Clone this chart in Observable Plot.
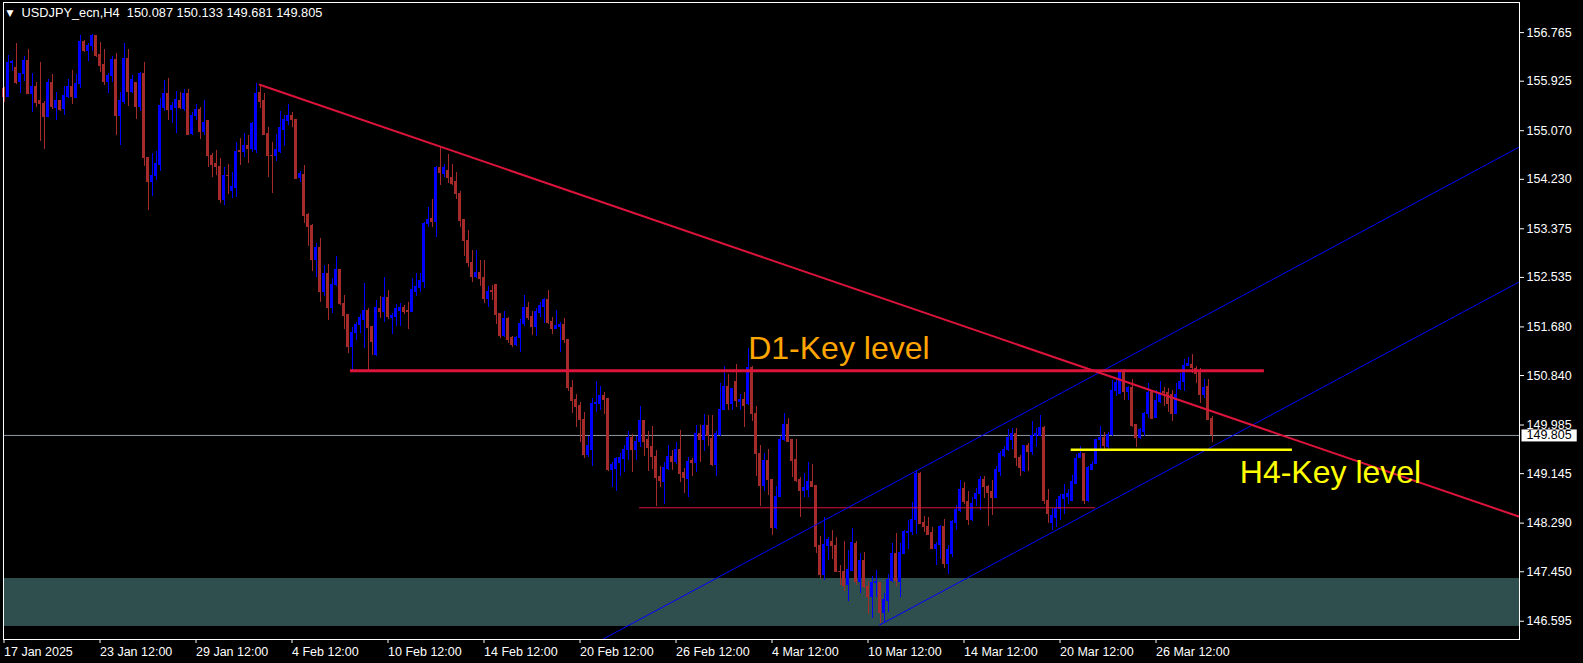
<!DOCTYPE html>
<html><head><meta charset="utf-8">
<script src="https://cdn.jsdelivr.net/npm/d3@7"></script>
<script src="https://cdn.jsdelivr.net/npm/@observablehq/plot@0.6"></script>
<style>
html,body{margin:0;padding:0;background:#000;}
#chart{width:1583px;height:663px;overflow:hidden;}
</style></head><body><div id="chart"></div>
<script>
// ---- header ----
const symbolTitle = "USDJPY_ecn,H4";
const lastBarOHLC = ["150.087", "150.133", "149.681", "149.805"];

// ---- axis ticks ----
const priceTicks = [156.765, 155.925, 155.070, 154.230, 153.375, 152.535, 151.680, 150.840, 149.985, 149.145, 148.290, 147.450, 146.595];
const dateLabelBars = [0, 24, 48, 72, 96, 120, 144, 168, 192, 216, 240, 264, 288];
const dateLabels = ["17 Jan 2025", "23 Jan 12:00", "29 Jan 12:00", "4 Feb 12:00", "10 Feb 12:00", "14 Feb 12:00", "20 Feb 12:00", "26 Feb 12:00", "4 Mar 12:00", "10 Mar 12:00", "14 Mar 12:00", "20 Mar 12:00", "26 Mar 12:00"];

// ---- H4 candles (bar 0 = 17 Jan 12:00) ----
const openP = [
155.79,155.66,156.24,156.16,155.91,156.05,156.28,155.70,155.82,155.58,
155.54,155.30,155.89,155.47,155.58,155.44,155.66,155.83,155.64,155.87,
156.61,156.44,156.53,156.70,156.37,156.20,155.91,156.02,156.29,155.33,
155.56,156.31,155.74,155.90,155.48,156.05,154.60,154.19,154.29,154.48,
155.47,155.70,155.43,155.47,155.59,155.44,155.71,155.02,155.32,155.43,
155.04,155.23,154.64,154.49,154.45,153.88,154.29,154.03,154.08,154.72,
154.70,154.80,154.75,154.73,155.72,155.58,155.01,154.64,154.63,154.70,
155.09,155.23,155.33,155.25,154.25,154.31,153.61,153.42,152.83,153.05,
152.28,152.59,152.01,152.40,152.66,152.08,151.88,151.34,151.57,151.71,
151.80,151.95,151.68,151.19,151.99,151.93,152.18,151.84,151.85,151.96,
152.01,151.96,151.94,152.28,152.36,152.45,153.45,153.54,153.50,154.42,
154.33,154.37,154.26,154.18,153.98,153.52,153.16,152.78,152.55,152.62,
152.52,152.16,152.30,152.40,151.90,151.52,151.81,151.48,151.36,151.49,
151.73,152.00,151.85,151.68,151.92,152.02,152.14,151.76,151.64,151.68,
151.71,151.45,150.63,150.41,150.31,150.08,149.46,149.56,150.34,150.34,
150.48,150.43,149.20,149.23,149.33,149.40,149.55,149.76,149.56,149.69,
150.05,149.72,149.60,149.44,149.09,149.00,149.22,149.44,149.34,149.55,
149.15,149.05,149.37,149.33,149.83,149.73,149.96,149.74,149.29,149.81,
150.25,150.65,150.34,150.72,150.39,150.41,150.34,150.97,150.18,149.49,
148.93,149.37,149.04,148.20,148.74,149.72,149.98,149.72,149.38,149.03,
148.85,148.87,149.00,148.94,147.89,147.40,147.90,147.96,147.90,147.45,
147.45,147.22,147.47,147.93,147.28,147.64,147.19,147.01,147.25,147.25,
146.74,146.95,147.29,147.76,147.28,147.76,148.12,148.13,148.34,149.14,
148.29,148.22,148.12,147.84,147.91,148.22,147.58,147.76,148.29,148.50,
148.88,148.66,148.34,148.71,148.79,149.04,148.92,148.83,148.72,149.17,
149.45,149.56,149.73,149.83,149.42,149.19,149.62,149.52,149.79,149.80,
149.94,148.68,148.29,148.38,148.54,148.71,148.75,148.68,148.97,149.42,
149.48,148.67,149.21,149.32,149.73,149.76,149.60,149.81,150.58,150.52,
150.90,150.55,150.63,149.98,149.76,149.86,150.17,150.55,150.11,150.38,
150.55,150.54,150.50,150.18,150.61,150.73,151.01,151.03,150.95,150.88,
150.51,150.64,150.087];
const highP = [
155.82,156.37,156.29,156.58,156.05,156.35,156.47,156.05,155.91,156.24,
155.58,155.95,156.04,155.73,155.60,155.83,155.95,156.11,156.04,156.72,
156.63,156.58,156.74,156.72,156.59,156.47,156.05,156.35,156.40,155.73,
156.57,156.47,156.02,155.91,156.08,156.25,154.60,154.67,154.71,155.63,
155.94,155.97,155.56,155.75,155.73,155.78,155.78,155.39,155.52,155.47,
155.60,155.25,154.67,154.73,154.59,154.44,154.49,154.34,154.86,154.93,
155.02,154.99,155.22,155.88,155.87,155.71,155.12,154.87,155.01,155.40,
155.33,155.52,155.38,155.26,154.36,154.47,153.64,153.45,153.12,153.20,
152.74,152.76,152.51,152.90,152.67,152.22,151.88,151.67,151.76,151.90,
152.43,151.99,151.69,152.14,152.20,152.53,152.31,151.91,152.07,152.08,
152.05,152.10,152.51,152.60,152.60,153.49,153.74,153.88,154.45,154.78,
154.49,154.66,154.49,154.35,154.02,153.53,153.35,153.00,153.00,152.83,
152.83,152.38,152.40,152.40,151.92,151.94,151.85,151.52,151.52,151.80,
152.22,152.10,151.94,151.99,152.11,152.17,152.31,151.85,151.96,151.76,
151.82,151.45,150.76,150.52,150.38,150.21,149.78,150.44,150.74,150.65,
150.54,150.44,149.34,149.42,149.49,149.63,149.88,149.82,149.78,150.31,
150.06,149.88,149.96,149.55,149.26,149.33,149.63,149.55,149.69,149.89,
149.23,149.42,149.40,149.98,149.98,150.17,150.15,150.15,149.88,150.70,
151.00,150.86,150.61,151.03,150.52,150.55,151.30,151.00,150.31,149.63,
149.49,149.57,149.04,148.92,149.78,150.18,150.09,149.73,149.73,149.08,
149.14,149.34,149.30,148.94,148.06,148.38,148.05,148.16,148.05,147.56,
147.98,147.82,148.20,147.98,147.76,147.79,147.29,147.36,147.47,147.27,
147.07,147.40,147.93,148.11,147.93,148.17,148.34,148.65,149.20,149.17,
148.40,148.38,148.21,147.96,148.25,148.35,147.90,148.34,148.60,149.03,
149.00,148.83,148.73,148.88,149.10,149.10,148.94,149.03,149.27,149.52,
149.62,149.90,149.92,149.92,149.46,149.63,149.66,150.05,149.92,150.15,
149.96,148.87,148.54,148.69,148.78,148.96,148.87,149.11,149.48,149.61,
149.49,149.26,149.36,149.74,149.96,149.86,149.86,150.76,150.78,150.94,
150.94,150.65,150.77,149.99,149.92,150.21,150.70,150.59,150.58,150.73,
150.64,150.61,150.59,150.70,150.88,151.11,151.16,151.20,150.99,150.96,
150.78,150.78,150.133];
const lowP = [
155.55,155.64,156.10,155.86,155.71,155.92,155.70,155.39,155.47,154.89,
154.75,155.30,155.44,155.24,155.41,155.33,155.62,155.53,155.62,155.80,
156.42,156.27,156.43,156.34,156.08,155.85,155.72,155.91,154.99,154.81,
155.53,155.49,155.71,155.27,155.41,154.46,153.69,153.93,154.21,154.37,
155.41,155.24,155.20,155.03,155.44,155.41,154.99,154.99,155.24,154.92,
154.98,154.44,154.27,154.30,153.82,153.78,153.97,153.90,153.92,154.47,
154.60,154.51,154.70,154.67,155.45,154.99,154.27,153.99,154.53,154.67,
154.80,155.16,155.13,154.22,154.17,153.46,153.07,152.63,152.54,152.11,
152.20,151.79,151.91,152.37,152.05,151.63,151.22,150.93,151.44,151.56,
151.30,150.93,151.19,151.17,151.82,151.76,151.80,151.55,151.68,151.68,
151.90,151.64,151.94,152.20,152.28,152.34,153.40,153.40,153.23,154.12,
154.27,154.16,154.12,153.88,153.40,152.90,152.71,152.44,152.51,152.37,
152.08,152.02,152.14,151.73,151.48,151.49,151.39,151.33,151.34,151.23,
151.68,151.79,151.53,151.52,151.85,151.74,151.72,151.55,151.63,151.23,
151.39,150.57,150.18,149.94,149.69,149.40,149.43,149.26,150.21,150.24,
150.17,149.19,148.91,148.84,149.10,149.17,149.38,149.17,149.38,149.60,
149.44,149.19,149.21,148.57,148.90,148.62,149.20,149.20,149.30,149.00,
148.81,148.74,149.09,149.17,149.34,149.53,149.62,149.26,149.09,149.78,
150.23,150.24,150.23,150.29,150.24,149.94,150.32,150.04,149.09,148.58,
148.83,148.77,148.08,148.18,148.73,149.70,149.69,149.08,149.00,148.38,
148.73,148.73,148.90,147.77,147.33,147.30,147.65,147.66,147.43,147.21,
147.11,146.94,147.46,147.22,147.08,147.16,146.72,146.64,147.01,146.55,
146.58,146.75,147.27,147.20,147.01,147.75,147.83,148.08,148.09,148.27,
148.13,148.08,147.83,147.56,147.67,147.50,147.40,147.70,148.16,148.48,
148.62,148.25,148.32,148.57,148.50,148.71,148.23,148.42,148.71,149.10,
149.43,149.52,149.57,149.27,149.09,149.17,149.19,149.45,149.60,149.78,
148.61,148.29,148.16,148.21,148.34,148.44,148.62,148.67,148.96,149.40,
148.61,148.64,149.20,149.30,149.55,149.52,149.53,149.79,150.48,150.51,
150.41,150.41,149.95,149.59,149.73,149.78,150.09,150.08,150.10,150.35,
150.30,150.21,150.05,150.17,150.59,150.57,151.00,150.87,150.70,150.35,
150.44,150.06,149.681];
const closeP = [
155.66,156.24,156.26,155.90,156.05,156.28,155.70,155.82,155.55,155.53,
155.30,155.90,155.48,155.58,155.43,155.67,155.83,155.65,155.88,156.61,
156.44,156.54,156.70,156.36,156.19,155.91,156.02,156.29,155.33,155.58,
156.31,155.74,155.95,155.48,156.05,154.60,154.18,154.29,154.50,155.49,
155.70,155.43,155.49,155.60,155.46,155.71,155.00,155.33,155.42,155.05,
155.21,154.63,154.47,154.44,153.88,154.29,154.28,154.09,154.71,154.70,
154.80,154.75,155.18,155.70,155.56,155.00,154.63,154.63,154.74,155.12,
155.25,155.33,155.25,154.24,154.33,153.59,153.40,152.83,153.05,152.28,
152.60,152.01,152.41,152.66,152.07,151.86,151.33,151.58,151.72,151.83,
151.95,151.66,151.42,152.01,151.93,152.18,151.85,151.86,151.99,152.01,
151.94,151.94,152.31,152.37,152.48,153.46,153.53,153.50,154.42,154.34,
154.42,154.25,154.15,153.98,153.51,153.16,152.78,152.55,152.62,152.50,
152.16,152.29,152.28,151.88,151.52,151.81,151.46,151.36,151.49,151.73,
152.00,151.84,151.68,151.93,152.05,152.14,151.75,151.64,151.69,151.71,
151.45,150.62,150.40,150.29,150.08,149.46,149.63,150.34,150.36,150.48,
150.41,149.20,149.30,149.40,149.42,149.56,149.76,149.56,149.70,150.05,
149.70,149.59,149.43,149.07,149.02,149.24,149.44,149.34,149.55,149.14,
149.07,149.35,149.33,149.83,149.73,149.97,149.79,149.29,149.83,150.25,
150.65,150.34,150.60,150.40,150.41,150.32,150.97,150.17,149.49,148.93,
149.37,149.03,148.20,148.75,149.72,149.98,149.70,149.36,149.02,148.85,
148.89,149.00,148.92,147.88,147.40,147.92,147.99,147.89,147.44,147.44,
147.21,147.48,147.95,147.28,147.64,147.18,147.01,147.26,147.27,146.74,
146.97,147.30,147.76,147.29,147.78,148.13,148.14,148.34,149.14,148.28,
148.22,148.09,147.84,147.92,148.22,147.58,147.82,148.31,148.51,148.87,
148.65,148.34,148.62,148.80,149.04,148.91,148.81,148.72,149.20,149.48,
149.56,149.76,149.83,149.42,149.24,149.62,149.52,149.79,149.83,149.94,
148.67,148.44,148.41,148.54,148.75,148.77,148.79,149.00,149.40,149.48,
148.67,149.24,149.30,149.73,149.76,149.62,149.82,150.58,150.71,150.90,
150.55,150.63,149.96,149.76,149.90,150.18,150.54,150.09,150.40,150.50,
150.54,150.35,150.18,150.50,150.73,151.01,151.04,150.97,150.87,150.51,
150.63,150.08,149.805];

// ---- drawn objects (bar index / price) ----
const demandZone = [{lo: 146.505, hi: 147.333}];
const trendRed = [{bar: 63.95, price: 155.864}, {bar: 378.875, price: 148.40}];
const channelUpper = [{bar: 149.6, price: 146.28}, {bar: 378.875, price: 154.79}];
const channelLower = [{bar: 218.9, price: 146.53}, {bar: 378.875, price: 152.46}];
const d1Level = [{price: 150.922, from: 86.6, to: 315.1}];
const supportLevel = [{price: 148.555, from: 158.9, to: 272.9}];
const h4Level = [{price: 149.557, from: 266.8, to: 322.1}];
const labels = [
  {text: "D1-Key level", bar: 186.05, price: 151.13, color: "#FFA500"},
  {text: "H4-Key level", bar: 308.95, price: 148.98, color: "#FFFF00"}
];

const BULL = "#0000FF", BEAR = "#A52A2A", RED = "#DC143C";
const bars = openP.map((o, i) => ({i, o, h: highP[i], l: lowP[i], c: closeP[i], col: closeP[i] >= o ? BULL : BEAR}));
const lastClose = closeP[closeP.length - 1];
const lastLabel = lastClose.toFixed(3);
const FONT = "Liberation Sans, Arial, sans-serif";

const chart = Plot.plot({
  width: 1583,
  height: 663,
  marginLeft: 3,
  marginRight: 64,
  marginTop: 2,
  marginBottom: 24,
  style: {background: "#000", color: "#fff", fontFamily: FONT, fontSize: "12.5px", overflow: "visible"},
  x: {domain: [-0.125, 378.875], axis: null},
  y: {domain: [146.2795, 157.285], axis: null},
  marks: [
    Plot.rect(demandZone, {y1: "lo", y2: "hi", fill: "#2F4F4F"}),
    Plot.ruleY([lastClose], {stroke: "#8E96A3", strokeWidth: 1}),
    Plot.ruleX(bars, {x: "i", y1: "l", y2: "h", stroke: "col", strokeWidth: 1, shapeRendering: "crispEdges"}),
    Plot.rect(bars, {x1: d => d.i - 0.375, x2: d => d.i + 0.375, y1: d => Math.min(d.o, d.c), y2: d => Math.max(d.o, d.c), fill: "col", insetTop: -0.5, insetBottom: -0.5, shapeRendering: "crispEdges"}),
    Plot.ruleY(supportLevel, {y: "price", x1: "from", x2: "to", stroke: RED, strokeWidth: 1}),
    Plot.line(channelUpper, {x: "bar", y: "price", stroke: BULL, strokeWidth: 1, clip: true}),
    Plot.line(channelLower, {x: "bar", y: "price", stroke: BULL, strokeWidth: 1, clip: true}),
    Plot.line(trendRed, {x: "bar", y: "price", stroke: RED, strokeWidth: 2, clip: true}),
    Plot.ruleY(d1Level, {y: "price", x1: "from", x2: "to", stroke: RED, strokeWidth: 3}),
    Plot.ruleY(h4Level, {y: "price", x1: "from", x2: "to", stroke: "#FFFF00", strokeWidth: 2.5}),
    Plot.text(labels, {x: "bar", y: "price", text: "text", fill: "color", fontSize: 32, textAnchor: "start", lineAnchor: "bottom", fontFamily: FONT}),
    Plot.text(["\u25BC"], {frameAnchor: "top-left", dx: 3, dy: 7, fontSize: 9, fill: "#fff", fontFamily: "DejaVu Sans"}),
    Plot.text([symbolTitle + "\u00A0 " + lastBarOHLC.join(" ")], {frameAnchor: "top-left", dx: 18, dy: 5.8, fill: "#fff", fontSize: 12.8, fontFamily: FONT}),
    Plot.frame({stroke: "#fff", shapeRendering: "crispEdges"}),
    Plot.axisY(priceTicks, {anchor: "right", tickSize: 4, tickPadding: 3, tickFormat: d => d.toFixed(3), stroke: "#fff", fill: "#fff", fontSize: 12.5, fontFamily: FONT}),
    Plot.axisX(dateLabelBars, {anchor: "bottom", tickSize: 4, tickPadding: 4, tickFormat: d => dateLabels[dateLabelBars.indexOf(d)], textAnchor: "start", stroke: "#fff", fill: "#fff", fontSize: 12.5, fontFamily: FONT}),
    Plot.text([lastClose], {y: d => d, text: () => lastLabel, frameAnchor: "right", dx: 7, textAnchor: "start", fill: "#000", fontSize: 12.5, fontFamily: FONT})
  ]
});

document.getElementById("chart").appendChild(chart);

// white box behind the current-price label (last text equal to the last close)
const tags = Array.from(chart.querySelectorAll("text")).filter(t => t.textContent.trim() === lastLabel);
const tagText = tags[tags.length - 1];
if (tagText) {
  const bb = tagText.getBBox();
  const r = document.createElementNS("http://www.w3.org/2000/svg", "rect");
  r.setAttribute("x", bb.x - 5);
  r.setAttribute("y", bb.y + 1);
  r.setAttribute("width", bb.width + 10);
  r.setAttribute("height", bb.height - 2);
  r.setAttribute("fill", "#fff");
  const tf = tagText.getAttribute("transform");
  if (tf) r.setAttribute("transform", tf);
  tagText.parentNode.insertBefore(r, tagText);
}
</script>
</body></html>
